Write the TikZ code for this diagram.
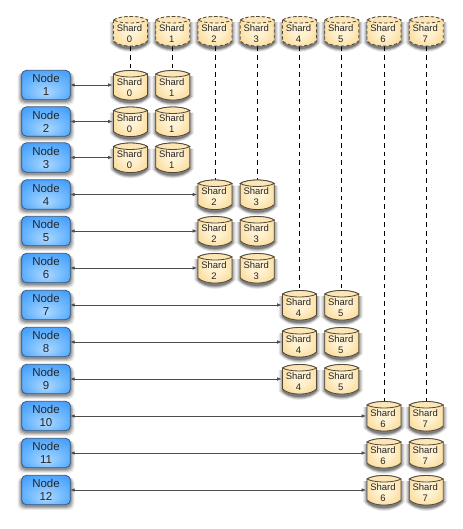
\documentclass[tikz,border=0pt]{standalone}
\usepackage{fontspec}
\setmainfont{Liberation Sans}
\usetikzlibrary{arrows.meta}
\definecolor{cylline}{HTML}{4F4739}
\definecolor{cyltop}{HTML}{FCE6B6}
\definecolor{cylmid}{HTML}{FFF2D2}
\definecolor{cylbot}{HTML}{F8CF7C}
\definecolor{nodeline}{HTML}{34557A}
\definecolor{nodeout}{HTML}{2C8EF8}
\definecolor{nodemid}{HTML}{66B4FF}
\definecolor{nodein}{HTML}{ADD8FF}
\pgfdeclareradialshading{nodeshade}{\pgfpoint{0bp}{-14bp}}{color(0bp)=(nodein); color(22bp)=(nodemid); color(44bp)=(nodeout); color(50bp)=(nodeout)}
\pgfdeclareradialshading{cylshade}{\pgfpoint{0bp}{4bp}}{color(0bp)=(cylmid); color(10bp)=(cylmid); color(40bp)=(cylbot); color(50bp)=(cylbot)}
\tikzset{
  x=0.75pt,y=-0.75pt,
  every node/.style={inner sep=0pt,outer sep=0pt},
  cyltext/.style={minimum width=25.5pt,minimum height=22.5pt,align=center,font=\fontsize{7.1}{8.3}\selectfont,text=black!85},
  nodebox/.style={minimum width=36.5pt,minimum height=22pt,rounded corners=3.5pt,draw=nodeline,line width=0.55pt,
    shading=nodeshade,align=center,font=\fontsize{8.6}{9.8}\selectfont,text=black!85},
  link/.style={draw=black!70,line width=0.5pt,{Latex[length=3.2pt,width=2.6pt]}-{Latex[length=3.2pt,width=2.6pt]}},
  guide/.style={draw=black,line width=0.6pt,dash pattern=on 3.6pt off 3pt},
  dashedge/.style={dash pattern=on 2.4pt off 1.7pt},
  plainedge/.style={},
}
% #1 name, #2 x, #3 y, #4 shard number, #5 outline style
\newcommand{\cyl}[5]{%
  \foreach \s/\o in {5/0.07,4/0.09,3/0.12,2/0.16,1/0.2}{%
    \fill[black,opacity=\o] (#2-17-\s+1,#3-9) -- (#2-17-\s+1,#3+12) .. controls (#2-10,#3+19+\s) and (#2+10,#3+19+\s) .. (#2+17+\s-1,#3+12) -- (#2+17+\s-1,#3-9) -- cycle;}%
  \path[draw=cylline,line width=0.6pt,#5,shading=cylshade]
    (#2-17,#3-11) -- (#2-17,#3+10) .. controls (#2-10,#3+16.8) and (#2+10,#3+16.8) .. (#2+17,#3+10) -- (#2+17,#3-11)
    .. controls (#2+10,#3-15.7) and (#2-10,#3-15.7) .. (#2-17,#3-11) -- cycle;
  \path[draw=cylline,line width=0.6pt,#5,fill=cyltop]
    (#2-17,#3-11) .. controls (#2-10,#3-15.7) and (#2+10,#3-15.7) .. (#2+17,#3-11)
    .. controls (#2+10,#3-7) and (#2-10,#3-7) .. (#2-17,#3-11) -- cycle;
  \node[cyltext] (#1) at (#2-1,#3+2.5) {Shard\\#4};%
}
% #1 name, #2 y, #3 number
\newcommand{\nodebox}[3]{%
  \foreach \s/\o in {4/0.07,3/0.1,2/0.14,1/0.18}{%
    \fill[black,opacity=\o,rounded corners=4pt] (46-24.5-\s,#2-13) rectangle (46+24.5+\s,#2+15+\s+1);}%
  \node[nodebox] (#1) at (46,#2) {Node\\#3};%
}
\begin{document}
\begin{tikzpicture}
\useasboundingbox (0,0) rectangle (463,529);
\fill[white] (0,0) rectangle (463,529);
\foreach \i/\x/\yy in {0/130.5/68,1/172.75/68,2/215/182,3/257.25/182,4/299.5/292,5/341.75/292,6/384/403,7/426.25/403}{
  \coordinate (gtop\i) at (\x,46);
  \coordinate (gbot\i) at (\x,\yy);
  \draw[guide] (gtop\i) -- (gbot\i);
}
\foreach \i/\x in {0/130.5,1/172.75,2/215,3/257.25,4/299.5,5/341.75,6/384,7/426.25}{
  \cyl{top\i}{\x}{31}{\i}{dashedge}
}
\foreach \n/\y/\c/\a/\b in {1/85/130.5/0/1,2/121.5/130.5/0/1,3/157.5/130.5/0/1,
  4/194.5/215/2/3,5/231/215/2/3,6/268/215/2/3,
  7/305/299.5/4/5,8/342/299.5/4/5,9/379/299.5/4/5,
  10/416/384/6/7,11/453/384/6/7,12/490/384/6/7}{
  \nodebox{n\n}{\y}{\n}
  \cyl{s\n a}{\c}{\y}{\a}{plainedge}
  \pgfmathsetmacro{\xb}{\c+42.25}
  \cyl{s\n b}{\xb}{\y}{\b}{plainedge}
  \coordinate (left\n) at (\c-18,\y);
  \draw[link] (n\n.east) -- (left\n);
}
\end{tikzpicture}
\end{document}
